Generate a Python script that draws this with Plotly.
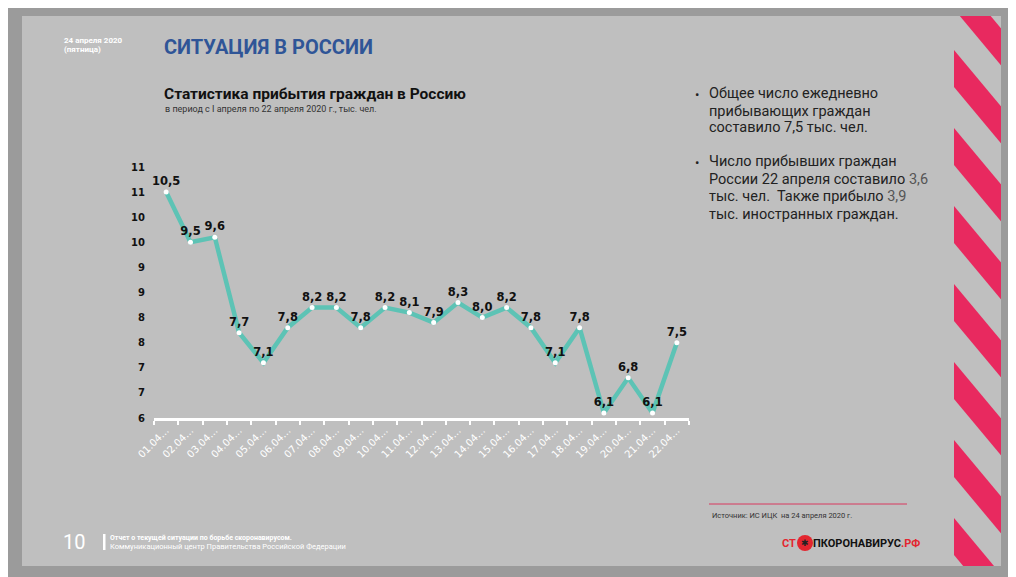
import plotly.graph_objects as go

# data
dates = ["01.04…", "02.04…", "03.04…", "04.04…", "05.04…", "06.04…", "07.04…", "08.04…",
         "09.04…", "10.04…", "11.04…", "12.04…", "13.04…", "14.04…", "15.04…", "16.04…",
         "17.04…", "18.04…", "19.04…", "20.04…", "21.04…", "22.04…"]
arrivals = [10.5, 9.5, 9.6, 7.7, 7.1, 7.8, 8.2, 8.2, 7.8, 8.2, 8.1, 7.9,
            8.3, 8.0, 8.2, 7.8, 7.1, 7.8, 6.1, 6.8, 6.1, 7.5]
y_ticks = [6, 6.5, 7, 7.5, 8, 8.5, 9, 9.5, 10, 10.5, 11]
y_tick_text = ["6", "7", "7", "8", "8", "9", "9", "10", "10", "11", "11"]

# page body margin pushes the figure 8px right/down, so coordinates below
# are screen pixels and get shifted back by OFF
OFF = 8
W, H = 1016 - OFF, 577 - OFF
L, R, T, B = 154 - OFF, 327, 167 - OFF, 159
PW, PH = W - L - R, H - T - B


def px(x):
    return (x - OFF - L) / PW


def py(y):
    return (H - B - (y - OFF)) / PH


fig = go.Figure()
fig.add_trace(go.Scatter(
    x=dates,
    y=arrivals,
    mode="lines+markers+text",
    line=dict(color="#5DC3B5", width=4.5),
    marker=dict(color="white", size=5),
    text=[f"{v:.1f}".replace(".", ",") for v in arrivals],
    textposition="top center",
    textfont=dict(family="DejaVu Sans", size=11.5, color="#111", weight="bold"),
    cliponaxis=False,
    hoverinfo="skip",
))

# slide background, stripes and frame
shapes = [dict(type="rect", xref="paper", yref="paper", x0=px(22), x1=px(1001),
               y0=py(566), y1=py(16), fillcolor="#BFBFBF", line_width=0, layer="below")]
slope = 1.2
for c in [-28, 50, 128, 206, 284, 362, 440, 518]:
    pts = [(954, c), (954, c + 37), (1010, c + 37 + slope * 56), (1010, c + slope * 56)]
    path = "M " + " L ".join(f"{px(a)},{py(b)}" for a, b in pts) + " Z"
    shapes.append(dict(type="path", xref="paper", yref="paper", path=path,
                       fillcolor="#E8295F", line_width=0, layer="below"))
for x0, x1, y0, y1 in [(0, 1030, 0, 16), (1001, 1030, 0, 590), (0, 1030, 566, 590)]:
    shapes.append(dict(type="rect", xref="paper", yref="paper", x0=px(x0), x1=px(x1),
                       y0=py(y1), y1=py(y0), fillcolor="#9B9B9B", line_width=0, layer="below"))
# source line, footer bar, logo circle
shapes.append(dict(type="line", xref="paper", yref="paper", x0=px(709), x1=px(907),
                   y0=py(504), y1=py(504), line=dict(color="#D8385F", width=1)))
shapes.append(dict(type="rect", xref="paper", yref="paper", x0=px(103), x1=px(105.5),
                   y0=py(550), y1=py(534), fillcolor="white", line_width=0))
shapes.append(dict(type="circle", xref="paper", yref="paper", x0=px(797), x1=px(813),
                   y0=py(551), y1=py(535), fillcolor="#E3262F", line_width=0))


def note(x, y, text, size, color, family="Roboto", anchor="left"):
    fig.add_annotation(xref="paper", yref="paper", x=px(x), y=py(y), text=text,
                       showarrow=False, xanchor=anchor, yanchor="middle", align="left",
                       font=dict(family=family, size=size, color=color))


note(62, 40, "<b>24 апреля 2020</b>", 8, "white")
note(62, 49, "<b>(пятница)</b>", 8, "white")
note(162, 47, "<b>СИТУАЦИЯ В РОССИИ</b>", 20, "#2F5597")
note(162, 94, "<b>Статистика прибытия граждан в Россию</b>", 15.5, "#111")
note(163, 109, "в период с I апреля по 22 апреля 2020 г., тыс. чел.", 9, "#333")

bullet_lines = [
    (93, "Общее число ежедневно"),
    (111, "прибывающих граждан"),
    (128, "составило 7,5 тыс. чел."),
    (161, "Число прибывших граждан"),
    (179, "России 22 апреля составило <span style='color:#555'>3,6</span>"),
    (196, "тыс. чел.  Также прибыло <span style='color:#555'>3,9</span>"),
    (214, "тыс. иностранных граждан."),
]
for y, t in bullet_lines:
    note(707, y, t, 14.5, "#222")
note(693, 94, "•", 13, "#222")
note(693, 162, "•", 13, "#222")

note(710, 515, "Источник: ИС ИЦК  на 24 апреля 2020 г.", 7.5, "#333")

note(61, 542, "10", 20, "white")
note(108, 538, "<b>Отчет о текущей ситуации по борьбе скоронавирусом.</b>", 7, "white")
note(108, 546, "Коммуникационный центр Правительства Российской Федерации", 7.5, "white")

note(798, 543, "<b>СТ</b>", 11, "#E3262F", anchor="right")
note(805, 543, "✱", 9, "#222", anchor="center")
note(811, 543, "<b>ПКОРОНАВИРУС<span style='color:#E3262F'>.РФ</span></b>", 11, "#111")

fig.update_layout(
    width=W, height=H,
    margin=dict(l=L, r=R, t=T, b=B),
    paper_bgcolor="#9B9B9B",
    plot_bgcolor="rgba(0,0,0,0)",
    showlegend=False,
    shapes=shapes,
    xaxis=dict(
        type="category",
        range=[-0.5, len(dates) - 0.5],
        showline=True, linecolor="white", linewidth=2.5,
        showgrid=False, zeroline=False,
        ticks="outside", tickson="boundaries", tickcolor="white", ticklen=4, tickwidth=1.5,
        tickangle=-45,
        tickfont=dict(family="DejaVu Sans", size=10, color="white"),
    ),
    yaxis=dict(
        range=[6, 11],
        tickvals=y_ticks, ticktext=y_tick_text,
        showgrid=False, zeroline=False, showline=False,
        ticks="", ticklabelstandoff=8,
        tickfont=dict(family="DejaVu Sans", size=10, color="#111", weight="bold"),
    ),
)

fig.write_html("out.html")
